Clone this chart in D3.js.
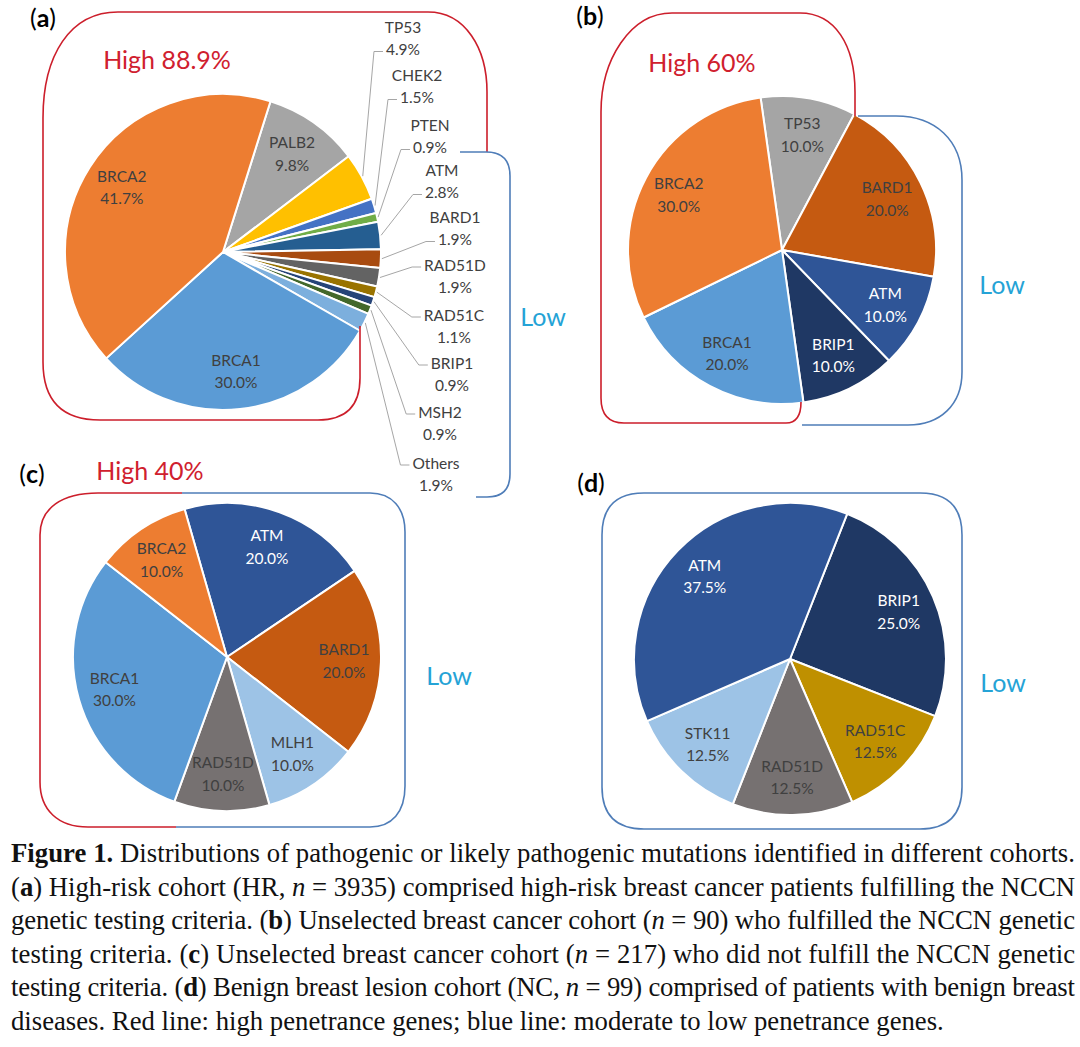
<!DOCTYPE html>
<html><head><meta charset="utf-8">
<script src="https://cdn.jsdelivr.net/npm/d3@7"></script>
<style>body{margin:0;background:#fff} svg{display:block}</style>
</head><body>
<svg id="c" width="1080" height="1047"></svg>
<script>
// ---------------- data ----------------
const genesA  = ["PALB2","TP53","CHEK2","PTEN","ATM","BARD1","RAD51D","RAD51C","BRIP1","MSH2","Others","BRCA1","BRCA2"];
const valuesA = [9.8, 4.9, 1.5, 0.9, 2.8, 1.9, 1.9, 1.1, 0.9, 0.9, 1.9, 30.0, 41.7];
const genesB  = ["TP53","BARD1","ATM","BRIP1","BRCA1","BRCA2"];
const valuesB = [10.0, 20.0, 10.0, 10.0, 20.0, 30.0];
const genesC  = ["ATM","BARD1","MLH1","RAD51D","BRCA1","BRCA2"];
const valuesC = [20.0, 20.0, 10.0, 10.0, 30.0, 10.0];
const genesD  = ["BRIP1","RAD51C","RAD51D","STK11","ATM"];
const valuesD = [25.0, 12.5, 12.5, 12.5, 37.5];
const externalA = ["TP53","CHEK2","PTEN","ATM","BARD1","RAD51D","RAD51C","BRIP1","MSH2","Others"];
const highLabels = ["High 88.9%", "High 60%", "High 40%"];
const lowLabel = "Low";
const panelLetters = ["a","b","c","d"];
const captionLines = [
  "**Figure 1.** Distributions of pathogenic or likely pathogenic mutations identified in different cohorts.",
  "(**a**) High-risk cohort (HR, _n_ = 3935) comprised high-risk breast cancer patients fulfilling the NCCN",
  "genetic testing criteria. (**b**) Unselected breast cancer cohort (_n_ = 90) who fulfilled the NCCN genetic",
  "testing criteria. (**c**) Unselected breast cancer cohort (_n_ = 217) who did not fulfill the NCCN genetic",
  "testing criteria. (**d**) Benign breast lesion cohort (NC, _n_ = 99) comprised of patients with benign breast",
  "diseases. Red line: high penetrance genes; blue line: moderate to low penetrance genes."
];

// ---------------- styles ----------------
const colorsA = {PALB2:"#A5A5A5", TP53:"#FFC000", CHEK2:"#4472C4", PTEN:"#70AD47", ATM:"#255E91",
  BARD1:"#A84B10", RAD51D:"#636363", RAD51C:"#997300", BRIP1:"#264478", MSH2:"#43682B",
  Others:"#7CAFDD", BRCA1:"#5B9BD5", BRCA2:"#ED7D31"};
const colorsBCD = {BRCA2:"#ED7D31", BRCA1:"#5B9BD5", TP53:"#A5A5A5", BARD1:"#C55A11", ATM:"#2F5597",
  BRIP1:"#1F3864", MLH1:"#9DC3E6", RAD51D:"#767171", RAD51C:"#BF9000", STK11:"#9DC3E6"};
const whiteText = ["ATM","BRIP1"];
const RED = "#CC1E2B", BLUE = "#4F7DB8", LOWC = "#25A3D6", TXT = "#404040";
const F = "Lato, 'Open Sans', sans-serif";

// ---------------- layout ----------------
const layout = {
  a: {cx:223, cy:252, r:158, start:17.5},
  b: {cx:782, cy:250, r:154, start:-8},
  c: {cx:227, cy:657, r:154, start:-16},
  d: {cx:790, cy:659, r:156, start:21.5}
};
const extPos = [[403,27],[417,75],[430,125],[442,170],[455,217],[455,265],[454,315],[452,363],[440,412],[436,463]];
const lineGap = 22.5;
const labelFS = 15.5;

const svg = d3.select("#c");
svg.append("rect").attr("width",1080).attr("height",1047).attr("fill","#fff");
const fmt = v => d3.format(".1f")(v) + "%";
const deg = Math.PI/180;

function twoLine(g, x, y, a, b, fill) {
  const t = g.append("text").attr("text-anchor","middle").attr("font-family",F)
    .attr("font-size",labelFS).attr("fill",fill);
  const t1 = t.append("tspan").attr("x",x).attr("y",y).attr("dy","0.36em").text(a);
  const t2 = t.append("tspan").attr("x",x).attr("y",y+lineGap).attr("dy","0.36em").text(b);
  return [t1, t2];
}

function drawPie(genes, values, colors, cfg, external) {
  const data = genes.map((k,i)=>({gene:k, value:values[i]}));
  const a0 = cfg.start*deg;
  const pie = d3.pie().sort(null).value(d=>d.value).startAngle(a0).endAngle(a0+2*Math.PI);
  const arcs = pie(data);
  const arc = d3.arc().innerRadius(0).outerRadius(cfg.r);
  const G = svg.append("g").attr("transform",`translate(${cfg.cx},${cfg.cy})`);
  G.selectAll("path.slice").data(arcs).join("path").attr("class","slice")
    .attr("d",arc).attr("fill",d=>colors[d.data.gene])
    .attr("stroke","#fff").attr("stroke-width",2).attr("stroke-linejoin","round");
  const lab = d3.arc().innerRadius(cfg.r*0.76).outerRadius(cfg.r*0.76);
  arcs.filter(d=>!external.includes(d.data.gene)).forEach(d=>{
    const [x,y] = lab.centroid(d);
    twoLine(G, x, y-lineGap/2, d.data.gene, fmt(d.data.value), whiteText.includes(d.data.gene)?"#fff":TXT);
  });
  return arcs;
}

// panel a
const arcsA = drawPie(genesA, valuesA, colorsA, layout.a, externalA);
const LA = layout.a;
const gExt = svg.append("g");
externalA.forEach((gene,i)=>{
  const d = arcsA.find(a=>a.data.gene===gene);
  const mid = (d.startAngle+d.endAngle)/2;
  const sx = LA.cx + (LA.r+1)*Math.sin(mid), sy = LA.cy - (LA.r+1)*Math.cos(mid);
  const [x,y] = extPos[i];
  const [t1,t2] = twoLine(gExt, x, y, gene, fmt(d.data.value), TXT);
  const useSecond = i < 5;
  const w = (useSecond ? t2 : t1).node().getComputedTextLength();
  const ax = x - w/2 - 3, ay = (useSecond ? y+lineGap : y) + 2;
  gExt.append("path").attr("d",`M${sx},${sy}L${ax-9},${ay}L${ax},${ay}`)
    .attr("fill","none").attr("stroke","#A6A6A6").attr("stroke-width",1);
});
drawPie(genesB, valuesB, colorsBCD, layout.b, []);
drawPie(genesC, valuesC, colorsBCD, layout.c, []);
drawPie(genesD, valuesD, colorsBCD, layout.d, []);

// group outlines
const outlines = [
  [RED,  "M360,326 L360,378 Q360,420 318,420 L100,420 Q43,420 43,362 L43,118 C43,55 70,12 118,12 L428,12 C465,12 487,48 487,92 L487,152"],
  [BLUE, "M460,152 L486,152 Q510,152 510,176 L510,474 Q510,497 487,497 L476,497"],
  [RED,  "M855,116 L855,92 C855,45 835,13 800,13 L672,13 C630,13 601,60 601,112 L601,398 Q601,423 624,423 L786,423 Q801,423 801,402"],
  [BLUE, "M858,116 L896,116 C935,116 962,140 962,180 L962,372 C962,405 940,425 908,425 L802,425"],
  [RED,  "M182,493 L98,493 C62,493 40,508 40,535 L40,782 C40,810 58,827 88,827 L176,827"],
  [BLUE, "M182,493 L370,493 C392,493 405,508 405,532 L405,786 C405,812 392,827 370,827 L176,827"],
  [BLUE, "M644,493 L920,493 Q962,493 962,535 L962,787 Q962,829 920,829 L644,829 Q602,829 602,787 L602,535 Q602,493 644,493 Z"]
];
outlines.forEach(([c,p])=>svg.append("path").attr("d",p).attr("fill","none").attr("stroke",c).attr("stroke-width",1.6));

// High / Low labels
[[167,60],[702,63],[150,471]].forEach((p,i)=>{
  svg.append("text").attr("x",p[0]).attr("y",p[1]).attr("dy","0.36em").attr("text-anchor","middle")
    .attr("font-family",F).attr("font-size",25).attr("fill","#D0202E").text(highLabels[i]);
});
[[543,317],[1002,285],[449,676],[1003,683]].forEach(p=>{
  svg.append("text").attr("x",p[0]).attr("y",p[1]).attr("dy","0.36em").attr("text-anchor","middle")
    .attr("font-family",F).attr("font-size",25).attr("fill",LOWC).text(lowLabel);
});
[[43,18],[590,16],[32,474],[591,483]].forEach((p,i)=>{
  const t = svg.append("text").attr("x",p[0]).attr("y",p[1]).attr("dy","0.36em").attr("text-anchor","middle")
    .attr("font-family",F).attr("font-size",25).attr("fill","#000");
  t.append("tspan").text("(");
  t.append("tspan").attr("font-weight","bold").text(panelLetters[i]);
  t.append("tspan").text(")");
});

// caption
const capG = svg.append("g");
const CF = "'Liberation Serif', 'DejaVu Serif', serif";
function capLine(str, y, fs) {
  const t = capG.append("text").attr("x",11).attr("y",y).attr("font-family",CF).attr("font-size",fs).attr("fill","#111");
  const parts = str.split(/(\*\*[^*]+\*\*|_[^_]+_)/).filter(s=>s.length);
  parts.forEach(s=>{
    const sp = t.append("tspan");
    if (s.startsWith("**")) sp.attr("font-weight","bold").text(s.slice(2,-2));
    else if (s.startsWith("_")) sp.attr("font-style","italic").text(s.slice(1,-1));
    else sp.text(s);
  });
  return t;
}
const probe = capLine(captionLines[0], -100, 20);
const w0 = probe.node().getComputedTextLength();
probe.remove();
const capFS = 20 * 1060 / w0;
captionLines.forEach((s,i)=>{
  const t = capLine(s, 862 + i*33.5, capFS);
  if (i < captionLines.length-1) t.attr("textLength",1064).attr("lengthAdjust","spacing");
});
</script>
</body></html>
